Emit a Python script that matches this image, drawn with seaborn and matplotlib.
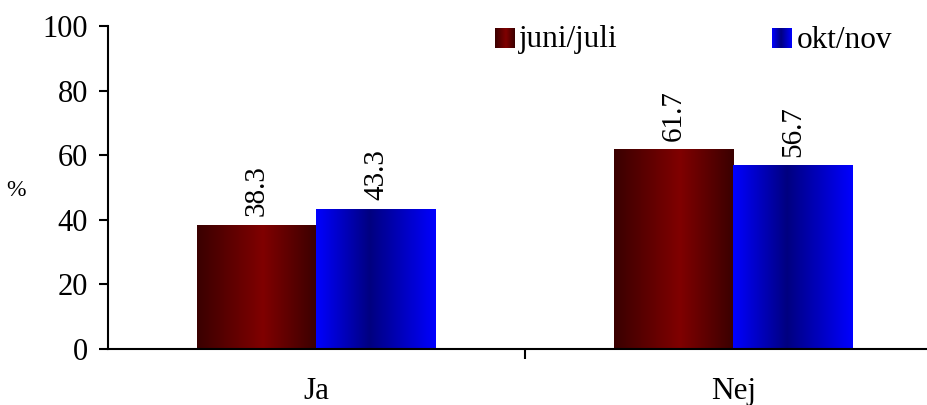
import numpy as np
import pandas as pd
import matplotlib
matplotlib.use('Agg')
import matplotlib.pyplot as plt
import seaborn as sns

categories = ['Ja', 'Nej']
periods = ['juni/juli', 'okt/nov']
juni_juli = [38.3, 61.7]
okt_nov = [43.3, 56.7]

df = pd.DataFrame({
    'svar': categories * 2,
    'period': [periods[0]] * 2 + [periods[1]] * 2,
    'value': juni_juli + okt_nov,
})

sns.set_style('white')
plt.rcParams['font.family'] = ['Liberation Serif', 'DejaVu Serif']
plt.rcParams.update({'text.color': 'black', 'axes.edgecolor': 'black',
                     'xtick.color': 'black', 'ytick.color': 'black',
                     'axes.labelcolor': 'black'})

# gradient colour maps: red bright in the middle, blue dark in the middle
red_cmap = matplotlib.colors.LinearSegmentedColormap.from_list(
    'red', [(0.0, '#3a0000'), (0.55, '#800000'), (1.0, '#3a0000')])
blue_cmap = matplotlib.colors.LinearSegmentedColormap.from_list(
    'blue', [(0.0, '#0000ff'), (0.45, '#000080'), (1.0, '#0000ff')])
cmaps = {periods[0]: red_cmap, periods[1]: blue_cmap}
grad = np.linspace(0, 1, 256).reshape(1, -1)

fig = plt.figure(figsize=(9.28, 4.05), dpi=100)
ax = fig.add_axes([108 / 928, 1 - 349 / 405, (942 - 108) / 928, (349 - 26) / 405])

sns.barplot(data=df, x='svar', y='value', hue='period', ax=ax,
            palette=['#800000', '#0000ff'], width=0.575, legend=False,
            saturation=1)

for container, period in zip(ax.containers, periods):
    for bar in container:
        x0, y0 = bar.get_x(), bar.get_y()
        w, h = bar.get_width(), bar.get_height()
        bar.set_facecolor('none')
        bar.set_edgecolor('none')
        ax.imshow(grad, cmap=cmaps[period], aspect='auto',
                  extent=(x0, x0 + w, y0, y0 + h), zorder=2)
        ax.text(x0 + w / 2, h + 2.8, f'{h:.1f}', rotation=90, ha='center',
                va='bottom', fontsize=21)

ax.set_xlim(-0.5, 1.5)
ax.set_ylim(0, 100)

for side in ['top', 'right']:
    ax.spines[side].set_visible(False)
ax.spines['left'].set_linewidth(1.5)
ax.spines['bottom'].set_linewidth(1.5)

ax.set_yticks(np.arange(0, 101, 20))
ax.tick_params(axis='y', direction='out', length=6.5, width=1.5, labelsize=22,
               left=True, pad=8)
ax.set_xticks([0.5], minor=True)
ax.set_xticks([0, 1])
ax.set_xticklabels(categories)
ax.tick_params(axis='x', which='major', length=0, labelsize=22.5, pad=20)
ax.tick_params(axis='x', which='minor', direction='out', length=7, width=1.5, bottom=True)
ax.set_xlabel('')
ax.set_ylabel('%', rotation=0, fontsize=17, va='center', ha='center')
ax.yaxis.set_label_coords(-0.11, 0.49)

# legend with gradient squares
for px, tx, label, period in [(495, 519, 'juni/juli', periods[0]),
                              (772, 797, 'okt/nov', periods[1])]:
    lax = fig.add_axes([px / 928, 1 - 48 / 405, 20 / 928, 20 / 405])
    lax.imshow(grad, cmap=cmaps[period], aspect='auto')
    lax.axis('off')
    fig.text(tx / 928, 1 - 40 / 405, label, fontsize=22.5, va='center', ha='left')

plt.savefig('out.png', dpi=100)
